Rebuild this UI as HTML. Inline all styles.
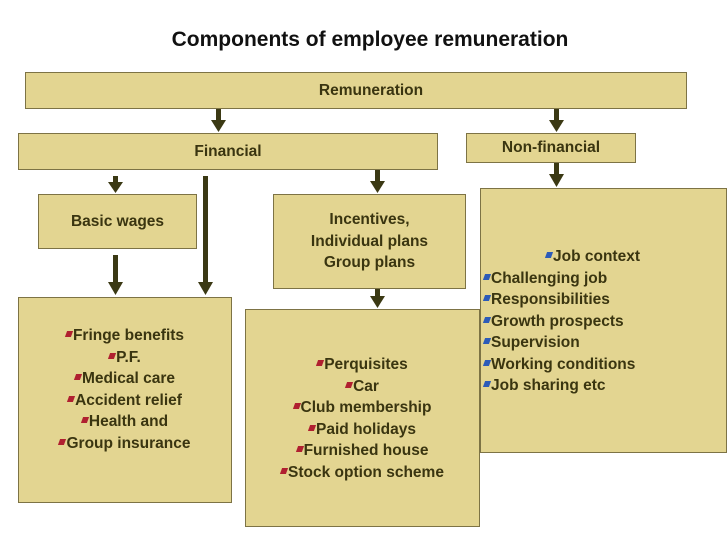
<!DOCTYPE html>
<html><head><style>
body{margin:0;width:728px;height:546px;background:#fff;position:relative;overflow:hidden;font-family:"Liberation Sans",sans-serif;}
.b{position:absolute;background:#e3d591;border:1.5px solid #7d7345;box-sizing:border-box;color:#3a3510;font-weight:bold;font-size:15.5px;}
.c{display:flex;align-items:center;justify-content:center;text-align:center;}
.t{position:absolute;text-align:center;line-height:21.5px;font-weight:bold;font-size:15.5px;color:#3a3510;}
.r::before{content:"";display:inline-block;width:6px;height:6px;background:#b02030;margin-right:1px;vertical-align:3px;transform:skewX(-20deg);}
.u::before{content:"";display:inline-block;width:6px;height:6px;background:#2c5bb8;margin-right:1px;vertical-align:3px;transform:skewX(-20deg);}
.title{position:absolute;left:0;width:740px;top:28px;text-align:center;font-size:21px;font-weight:bold;color:#111;}
</style></head><body>
<div class="title">Components of employee remuneration</div>
<div class="b c" style="left:25px;top:72px;width:662px;height:37px;padding-left:30px;">Remuneration</div>
<div class="b c" style="left:18px;top:133px;width:420px;height:37px;">Financial</div>
<div class="b c" style="left:466px;top:133px;width:170px;height:30px;">Non-financial</div>
<div class="b c" style="left:38px;top:194px;width:159px;height:55px;">Basic wages</div>
<div class="b c" style="left:273px;top:194px;width:193px;height:95px;line-height:21.5px;">Incentives,<br>Individual plans<br>Group plans</div>
<div class="b" style="left:480px;top:188px;width:247px;height:265px;"></div>
<div class="b" style="left:18px;top:297px;width:214px;height:206px;"></div>
<div class="b" style="left:245px;top:309px;width:235px;height:218px;"></div>
<div class="t" style="left:18px;width:214px;top:325px;"><span class="r">Fringe benefits</span><br><span class="r">P.F.</span><br><span class="r">Medical care</span><br><span class="r">Accident relief</span><br><span class="r">Health and</span><br><span class="r">Group insurance</span></div>
<div class="t" style="left:245px;width:235px;top:354px;"><span class="r">Perquisites</span><br><span class="r">Car</span><br><span class="r">Club membership</span><br><span class="r">Paid holidays</span><br><span class="r">Furnished house</span><br><span class="r">Stock option scheme</span></div>
<div class="t" style="left:484px;width:240px;top:246px;text-align:left;"><div style="padding-left:62px" class="u">Job context</div><div class="u">Challenging job</div><div class="u">Responsibilities</div><div class="u">Growth prospects</div><div class="u">Supervision</div><div class="u">Working conditions</div><div class="u">Job sharing etc</div></div>
<svg width="728" height="546" style="position:absolute;left:0;top:0">
<g fill="#3b3914">
<rect x="216" y="109" width="5" height="12"/><polygon points="211,120 226,120 218.5,132"/>
<rect x="554" y="109" width="5" height="12"/><polygon points="549,120 564,120 556.5,132"/>
<rect x="554" y="163" width="5" height="12"/><polygon points="549,174 564,174 556.5,187"/>
<rect x="113" y="176" width="5" height="6"/><polygon points="108,182 123,182 115.5,193"/>
<rect x="203" y="176" width="5" height="107"/><polygon points="198,282 213,282 205.5,295"/>
<rect x="375" y="170" width="5" height="12"/><polygon points="370,181 385,181 377.5,193"/>
<rect x="113" y="255" width="5" height="28"/><polygon points="108,282 123,282 115.5,295"/>
<rect x="375" y="289" width="5" height="8"/><polygon points="370,296 385,296 377.5,308"/>
</g></svg>
</body></html>
